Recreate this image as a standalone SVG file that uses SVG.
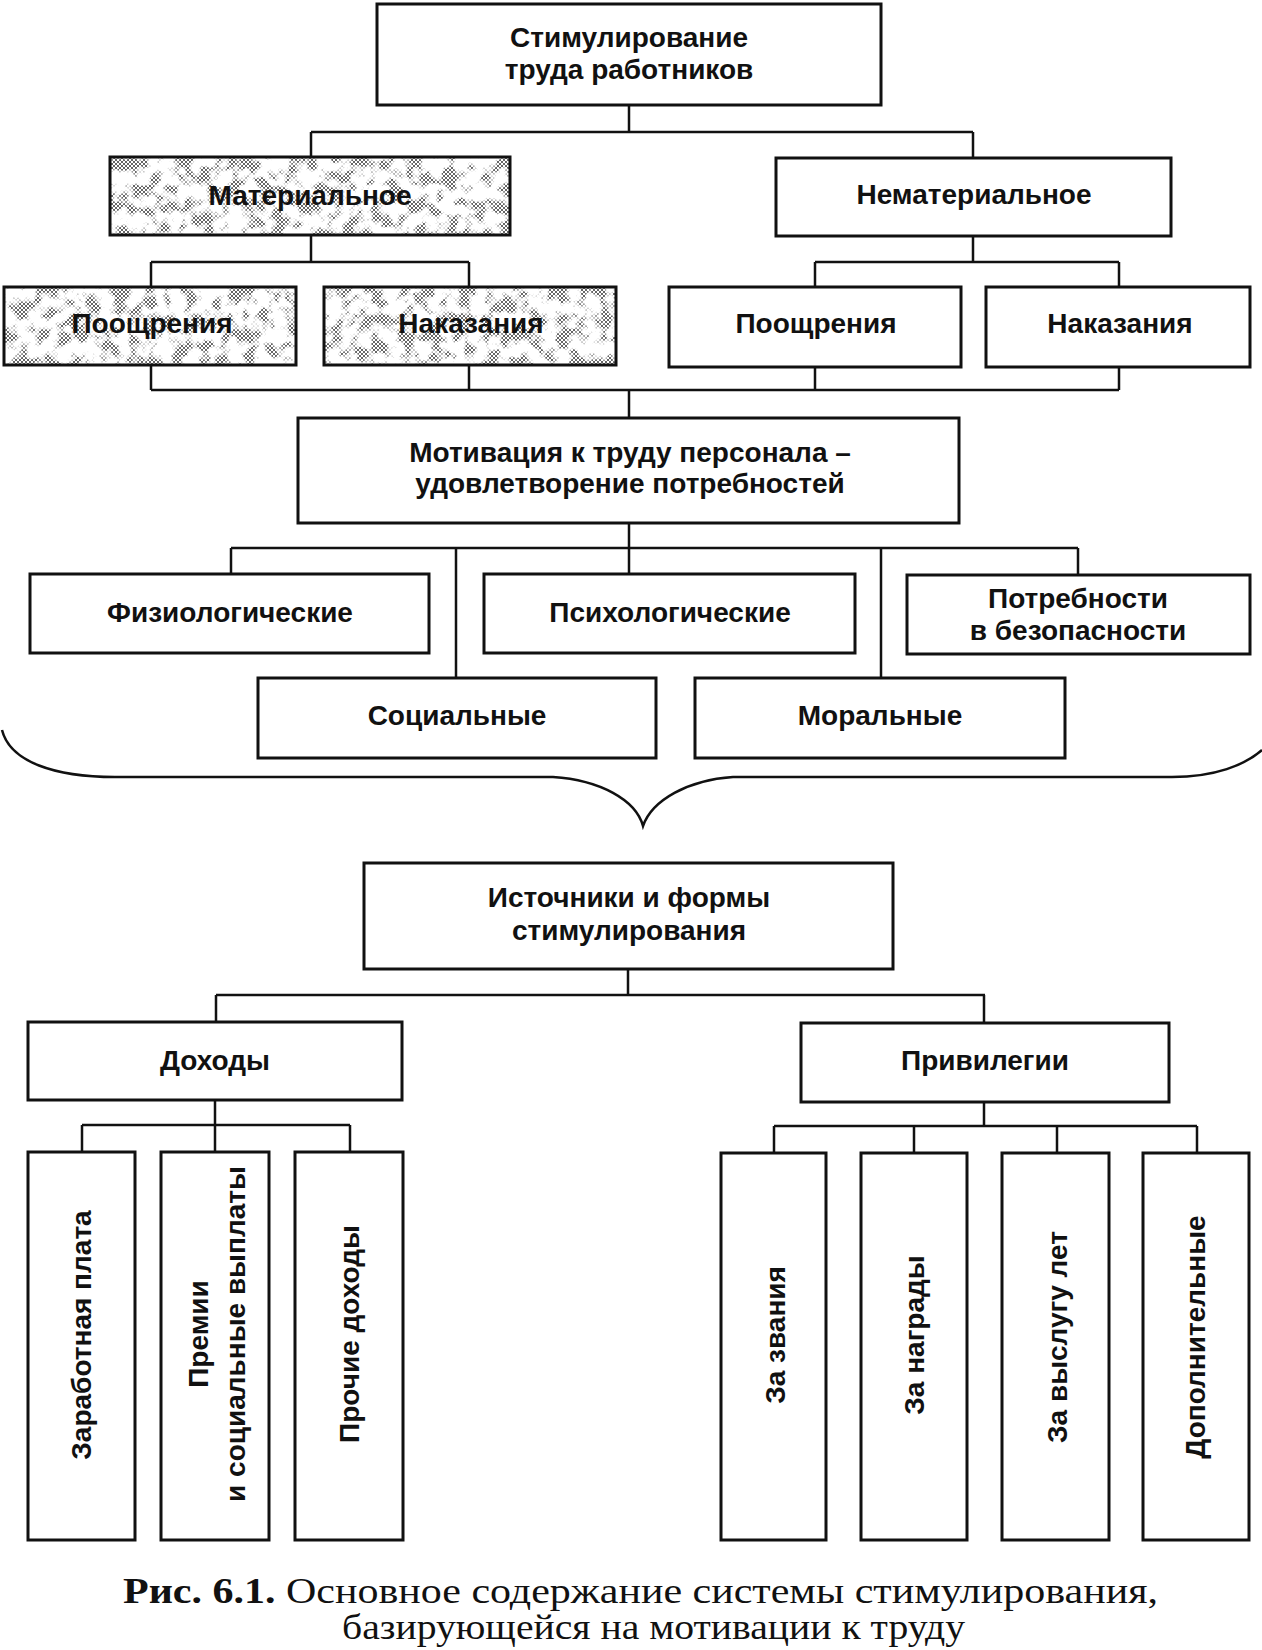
<svg xmlns="http://www.w3.org/2000/svg" width="1262" height="1650" viewBox="0 0 1262 1650">
<style>
.box{fill:#fff;stroke:#111;stroke-width:3}
.hbox{stroke:#111;stroke-width:3}
.t{font-family:"Liberation Sans",Arial,sans-serif;font-weight:bold;font-size:28px;fill:#111;text-anchor:middle}
.v{font-family:"Liberation Sans",Arial,sans-serif;font-weight:bold;font-size:28px;fill:#111;text-anchor:middle}
.cap{font-family:"Liberation Serif","Times New Roman",serif;font-size:36px;fill:#111}
#connectors path{fill:none;stroke:#111;stroke-width:2.5}
</style>
<defs>
<pattern id="hatch" width="4" height="4" patternUnits="userSpaceOnUse">
<rect width="4" height="4" fill="#fff"/>
<path d="M0,0 L4,4 M4,0 L0,4" stroke="#555" stroke-width="0.9"/>
</pattern>
<filter id="blotch" x="0" y="0" width="100%" height="100%">
<feTurbulence type="fractalNoise" baseFrequency="0.07" numOctaves="3" seed="5" result="n"/>
<feColorMatrix in="n" type="matrix" values="0 0 0 0 0  0 0 0 0 0  0 0 0 0 0  6 0 0 0 -2.7" result="m"/>
<feComposite in="SourceGraphic" in2="m" operator="in" result="h"/>
<feFlood flood-color="#fff" result="w"/>
<feMerge><feMergeNode in="w"/><feMergeNode in="h"/></feMerge>
</filter>
</defs>
<rect width="1262" height="1650" fill="#fff"/>

<g id="connectors">
<path d="M629,105 V132 M311,132 H973 M311,132 V157 M973,132 V158"/>
<path d="M311,235 V262 M151,262 H469 M151,262 V287 M469,262 V287"/>
<path d="M973,236 V262 M815,262 H1119 M815,262 V287 M1119,262 V287"/>
<path d="M151,365 V390 M469,365 V390 M815,367 V390 M1119,367 V390 M151,390 H1119 M629,390 V418"/>
<path d="M629,523 V574 M231,548 H1078 M231,548 V574 M1078,548 V575 M456,548 V678 M881,548 V678"/>
<path d="M2,730 C10,762 55,777 115,777 L553,777 C600,780 636,800 643,826 C652,800 688,780 733,777 L1172,777 C1215,777 1245,765 1262,750"/>
<path d="M628,969 V995 M216,995 H985 M216,995 V1022 M984,995 V1023"/>
<path d="M215,1100 V1152 M82,1125 H350 M82,1125 V1152 M350,1125 V1152"/>
<path d="M984,1102 V1126 M774,1126 H1197 M774,1126 V1153 M914,1126 V1153 M1057,1126 V1153 M1197,1126 V1153"/>
</g>

<g id="n-top">
<rect class="box" x="377" y="4" width="504" height="101"/>
<text class="t" x="629" y="47">Стимулирование</text>
<text class="t" x="629" y="79">труда работников</text>
</g>
<g id="n-material">
<g filter="url(#blotch)"><rect x="110" y="157" width="400" height="78" fill="url(#hatch)"/></g>
<rect class="hbox" x="110" y="157" width="400" height="78" fill="none"/>
<text class="t" x="310" y="205">Материальное</text>
</g>
<g id="n-nonmaterial">
<rect class="box" x="776" y="158" width="395" height="78"/>
<text class="t" x="974" y="204">Нематериальное</text>
</g>
<g id="n-mat-rewards">
<g filter="url(#blotch)"><rect x="4" y="287" width="292" height="78" fill="url(#hatch)"/></g>
<rect class="hbox" x="4" y="287" width="292" height="78" fill="none"/>
<text class="t" x="152" y="333">Поощрения</text>
</g>
<g id="n-mat-punish">
<g filter="url(#blotch)"><rect x="324" y="287" width="292" height="78" fill="url(#hatch)"/></g>
<rect class="hbox" x="324" y="287" width="292" height="78" fill="none"/>
<text class="t" x="471" y="333">Наказания</text>
</g>
<g id="n-nonmat-rewards">
<rect class="box" x="669" y="287" width="292" height="80"/>
<text class="t" x="816" y="333">Поощрения</text>
</g>
<g id="n-nonmat-punish">
<rect class="box" x="986" y="287" width="264" height="80"/>
<text class="t" x="1120" y="333">Наказания</text>
</g>
<g id="n-motivation">
<rect class="box" x="298" y="418" width="661" height="105"/>
<text class="t" x="630" y="462">Мотивация к труду персонала –</text>
<text class="t" x="630" y="493">удовлетворение потребностей</text>
</g>
<g id="n-physio">
<rect class="box" x="30" y="574" width="399" height="79"/>
<text class="t" x="230" y="622">Физиологические</text>
</g>
<g id="n-psycho">
<rect class="box" x="484" y="574" width="371" height="79"/>
<text class="t" x="670" y="622">Психологические</text>
</g>
<g id="n-safety">
<rect class="box" x="907" y="575" width="343" height="79"/>
<text class="t" x="1078" y="608">Потребности</text>
<text class="t" x="1078" y="640">в безопасности</text>
</g>
<g id="n-social">
<rect class="box" x="258" y="678" width="398" height="80"/>
<text class="t" x="457" y="725">Социальные</text>
</g>
<g id="n-moral">
<rect class="box" x="695" y="678" width="370" height="80"/>
<text class="t" x="880" y="725">Моральные</text>
</g>
<g id="n-sources">
<rect class="box" x="364" y="863" width="529" height="106"/>
<text class="t" x="629" y="907">Источники и формы</text>
<text class="t" x="629" y="940">стимулирования</text>
</g>
<g id="n-income">
<rect class="box" x="28" y="1022" width="374" height="78"/>
<text class="t" x="215" y="1070">Доходы</text>
</g>
<g id="n-privileges">
<rect class="box" x="801" y="1023" width="368" height="79"/>
<text class="t" x="985" y="1070">Привилегии</text>
</g>
<g id="n-salary">
<rect class="box" x="28" y="1152" width="107" height="388"/>
<text class="v" transform="translate(91,1335) rotate(-90)">Заработная плата</text>
</g>
<g id="n-bonus">
<rect class="box" x="161" y="1152" width="108" height="388"/>
<text class="v" transform="translate(208,1334) rotate(-90)">Премии</text>
<text class="v" transform="translate(245,1334) rotate(-90)">и социальные выплаты</text>
</g>
<g id="n-other">
<rect class="box" x="295" y="1152" width="108" height="388"/>
<text class="v" transform="translate(359,1334) rotate(-90)">Прочие доходы</text>
</g>
<g id="n-titles">
<rect class="box" x="721" y="1153" width="105" height="387"/>
<text class="v" transform="translate(785,1335) rotate(-90)">За звания</text>
</g>
<g id="n-awards">
<rect class="box" x="861" y="1153" width="106" height="387"/>
<text class="v" transform="translate(924,1335) rotate(-90)">За награды</text>
</g>
<g id="n-seniority">
<rect class="box" x="1002" y="1153" width="107" height="387"/>
<text class="v" transform="translate(1067,1337) rotate(-90)">За выслугу лет</text>
</g>
<g id="n-additional">
<rect class="box" x="1143" y="1153" width="106" height="387"/>
<text class="v" transform="translate(1205,1337) rotate(-90)">Дополнительные</text>
</g>

<g id="caption">
<text class="cap" x="123" y="1603" textLength="1035" lengthAdjust="spacingAndGlyphs"><tspan font-weight="bold">Рис. 6.1.</tspan> Основное содержание системы стимулирования,</text>
<text class="cap" x="342" y="1639" textLength="623" lengthAdjust="spacingAndGlyphs">базирующейся на мотивации к труду</text>
</g>
</svg>
